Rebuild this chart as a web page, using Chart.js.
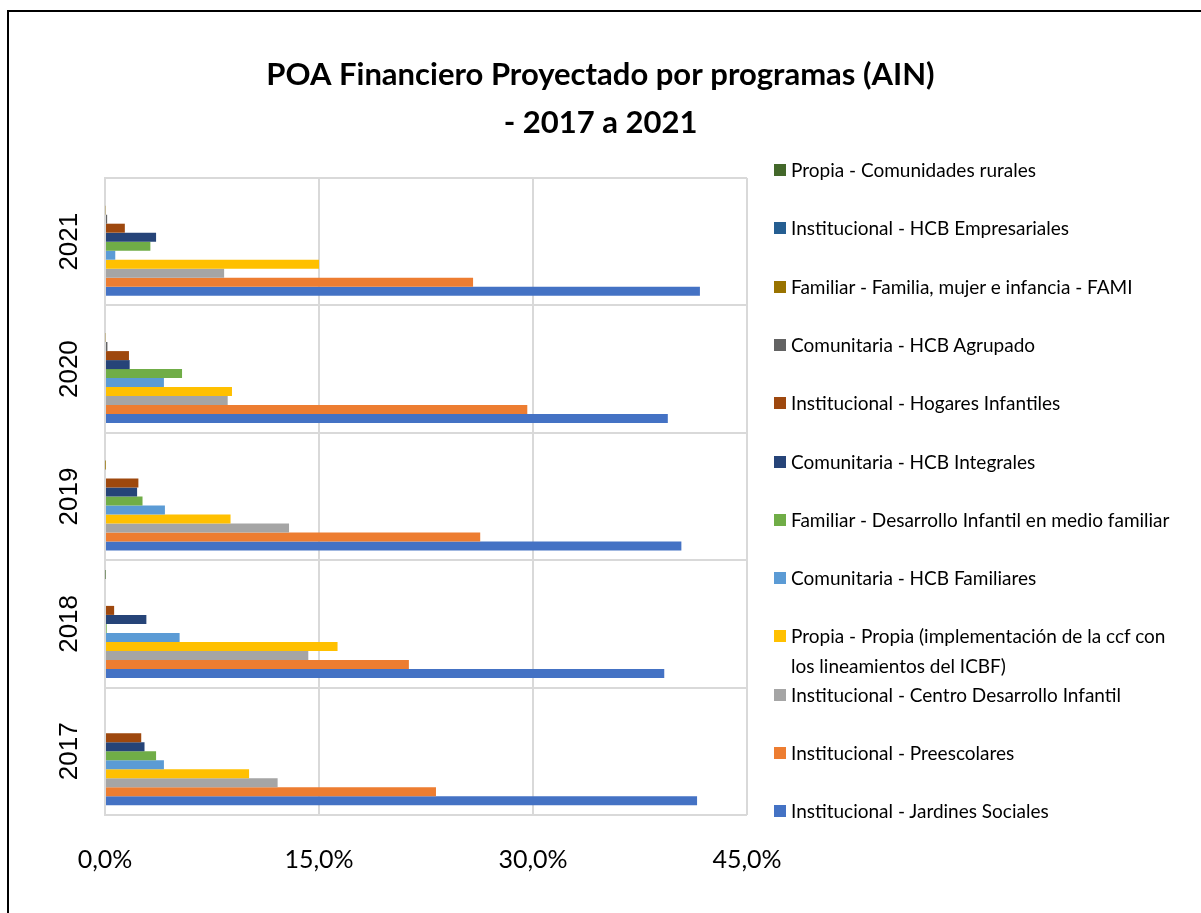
<!DOCTYPE html>
<html>
<head>
<meta charset="utf-8">
<script src="https://cdn.jsdelivr.net/npm/chart.js@4.4.1/dist/chart.umd.min.js"></script>
<style>
    html, body { margin: 0; padding: 0; background: #fff; overflow: hidden; }
    #wrap { position: relative; width: 1201px; height: 913px; }
    #frame { position: absolute; left: 7px; top: 10px; width: 1300px; height: 1000px; border: 2px solid #000; }
    #myChart { position: absolute; left: 0; top: 0; }
    #legend { position: absolute; left: 774px; top: 0; }
    .item { position: absolute; left: 0; width: 407px; font-family: "Lato", sans-serif; font-size: 19px; line-height: 30px; color: #000; }
    .item .box { position: absolute; left: 0; top: 9px; width: 12px; height: 12px; }
    .item .txt { margin-left: 17px; display: block; width: 390px; }
</style>
</head>
<body>
<div id="wrap">
    <div id="frame"></div>
    <canvas id="myChart" width="1201" height="913"></canvas>
    <div id="legend"></div>
</div>
<script>
    const years = ["2017", "2018", "2019", "2020", "2021"];

    // valores en %, orden 2017..2021
    const comunidadesRurales = [0, 0.03, 0, 0, 0];
    const hcbEmpresariales = [0, 0, 0, 0, 0];
    const fami = [0, 0, 0.02, 0.05, 0.05];
    const hcbAgrupado = [0, 0, 0, 0.17, 0.15];
    const hogaresInfantiles = [2.54, 0.64, 2.34, 1.68, 1.39];
    const hcbIntegrales = [2.77, 2.9, 2.25, 1.73, 3.58];
    const desarrolloFamiliar = [3.58, 0.12, 2.63, 5.4, 3.18];
    const hcbFamiliares = [4.13, 5.23, 4.2, 4.13, 0.72];
    const propiaIcbf = [10.1, 16.3, 8.8, 8.9, 15.0];
    const centroDesarrollo = [12.1, 14.25, 12.9, 8.6, 8.35];
    const preescolares = [23.2, 21.3, 26.3, 29.6, 25.8];
    const jardinesSociales = [41.5, 39.2, 40.4, 39.45, 41.7];

    const xTicks = [0, 15, 30, 45];

    // de arriba hacia abajo (como la leyenda)
    const series = [
        { label: "Propia  - Comunidades rurales", data: comunidadesRurales, color: "#43682B" },
        { label: "Institucional - HCB Empresariales", data: hcbEmpresariales, color: "#255E91" },
        { label: "Familiar - Familia, mujer e infancia - FAMI", data: fami, color: "#997300" },
        { label: "Comunitaria  - HCB Agrupado", data: hcbAgrupado, color: "#636363" },
        { label: "Institucional - Hogares Infantiles", data: hogaresInfantiles, color: "#9E480E" },
        { label: "Comunitaria - HCB Integrales", data: hcbIntegrales, color: "#264478" },
        { label: "Familiar - Desarrollo Infantil en medio familiar", data: desarrolloFamiliar, color: "#70AD47" },
        { label: "Comunitaria - HCB Familiares", data: hcbFamiliares, color: "#5B9BD5" },
        { label: "Propia - Propia (implementación de la ccf con los lineamientos del ICBF)", data: propiaIcbf, color: "#FFC000" },
        { label: "Institucional - Centro Desarrollo Infantil", data: centroDesarrollo, color: "#A5A5A5" },
        { label: "Institucional - Preescolares", data: preescolares, color: "#ED7D31" },
        { label: "Institucional - Jardines Sociales", data: jardinesSociales, color: "#4472C4" }
    ];

    const gridColor = "#D9D9D9";

    const ctx = document.getElementById("myChart").getContext("2d");
    const myChart = new Chart(ctx, {
        type: "bar",
        data: {
            labels: years,
            datasets: series.map(s => ({
                label: s.label,
                data: s.data,
                backgroundColor: s.color,
                borderWidth: 0,
                categoryPercentage: 0.848,
                barPercentage: 1
            }))
        },
        options: {
            indexAxis: "y",
            responsive: false,
            animation: false,
            plugins: {
                legend: { display: false },
                tooltip: { enabled: false },
                title: {
                    display: true,
                    text: ["POA Financiero Proyectado por programas (AIN)", "- 2017 a 2021"],
                    color: "#000",
                    font: { family: "Lato", size: 31, weight: "bold", lineHeight: 48 / 31 },
                    padding: { top: 51, bottom: 31 }
                }
            },
            scales: {
                x: {
                    min: 0,
                    max: 45,
                    afterBuildTicks: (scale) => {
                        scale.ticks = xTicks.map(v => ({ value: v }));
                    },
                    afterFit: (scale) => { scale.height = 98; },
                    grid: { color: gridColor, lineWidth: 2, drawTicks: false },
                    border: { display: false },
                    ticks: {
                        color: "#000",
                        padding: 30,
                        font: { family: "Lato", size: 25 },
                        callback: (v) => v.toFixed(1).replace(".", ",") + "%"
                    }
                },
                y: {
                    reverse: true,
                    afterFit: (scale) => { scale.width = 105; },
                    grid: { color: gridColor, lineWidth: 2, drawTicks: false, offset: true },
                    border: { color: gridColor, width: 2 },
                    ticks: {
                        color: "#000",
                        minRotation: 90,
                        maxRotation: 90,
                        crossAlign: "center",
                        padding: 6,
                        font: { family: "'Liberation Sans', Arial, sans-serif", size: 26 }
                    }
                },
                // espacio reservado para la leyenda
                legendSpace: {
                    axis: "y",
                    position: "right",
                    afterFit: (scale) => { scale.width = 1201 - 747; },
                    grid: { display: false },
                    border: { display: false },
                    ticks: { display: false }
                }
            }
        }
    });

    // leyenda
    const legend = document.getElementById("legend");
    series.forEach((s, i) => {
        const center = 170 + i * 58.3;
        const div = document.createElement("div");
        div.className = "item";
        div.style.top = (center - 15) + "px";
        div.innerHTML = '<span class="box"></span><span class="txt"></span>';
        div.querySelector(".box").style.background = s.color;
        div.querySelector(".txt").textContent = s.label;
        legend.appendChild(div);
    });
</script>
</body>
</html>
